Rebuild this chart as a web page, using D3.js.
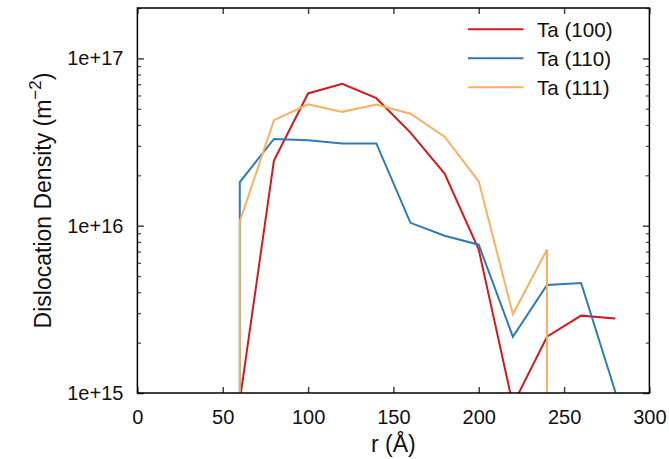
<!DOCTYPE html>
<html>
<head>
<meta charset="utf-8">
<script src="https://cdn.jsdelivr.net/npm/d3@7"></script>
<style>
  body { margin: 0; background: #fff; }
  text { font-family: "Liberation Sans", Arial, sans-serif; fill: #111; }
</style>
</head>
<body>
<script>
// radius bins (angstrom), 0 = empty bin, null = no data
const radius = [40, 60, 80, 100, 120, 140, 160, 180, 200, 220, 240, 260, 280, 300];

const ta100 = [0, 9e14, 2.45e16, 6.17e16, 7.05e16, 5.78e16, 3.6e16, 2.05e16, 7.2e15, 8.5e14, 2.17e15, 2.9e15, 2.79e15, null];
const ta110 = [0, 1.82e16, 3.3e16, 3.24e16, 3.1e16, 3.1e16, 1.04e16, 8.7e15, 7.7e15, 2.17e15, 4.42e15, 4.54e15, 1.02e15, 0];
const ta111 = [0, 1.06e16, 4.27e16, 5.32e16, 4.79e16, 5.3e16, 4.67e16, 3.4e16, 1.84e16, 2.96e15, 7.2e15, 0, null, null];

const seriesNames = ["Ta (100)", "Ta (110)", "Ta (111)"];
const seriesColors = ["#d7191c", "#2c7bb6", "#fdae61"];
const seriesValues = [ta100, ta110, ta111];

const xTicks = [0, 50, 100, 150, 200, 250, 300];
const yMajor = [1e15, 1e16, 1e17];
const yTickLabels = ["1e+15", "1e+16", "1e+17"];

const width = 669, height = 459;
const plotLeft = 137.4, plotRight = 649.4, plotTop = 8, plotBottom = 393;

const svg = d3.select("body").append("svg")
    .attr("width", width)
    .attr("height", height);

const x = d3.scaleLinear().domain([0, 300]).range([plotLeft, plotRight]);
const y = d3.scaleLog().domain([1e15, 2e17]).range([plotBottom, plotTop]);

svg.append("clipPath").attr("id", "plot-clip")
  .append("rect")
    .attr("x", plotLeft).attr("y", plotTop)
    .attr("width", plotRight - plotLeft).attr("height", plotBottom - plotTop);

// minor ticks: 2..9 in each decade
const yMinor = [];
[1e15, 1e16, 1e17].forEach(d => {
  for (let k = 2; k <= 9; k++) {
    if (d * k <= 2e17) yMinor.push(d * k);
  }
});

// axes, ticks pointing into the plot on all four sides
const tickColor = "#444";

svg.append("g")
    .attr("transform", `translate(0,${plotBottom})`)
    .call(d3.axisBottom(x).tickValues(xTicks).tickSizeInner(-6).tickSizeOuter(0).tickPadding(12))
    .call(g => g.select(".domain").remove())
    .call(g => g.selectAll("line").attr("stroke", tickColor).attr("stroke-width", 1.5))
    .call(g => g.selectAll("text").attr("font-size", 20).attr("font-family", null).attr("dy", "0.95em"));

svg.append("g")
    .attr("transform", `translate(0,${plotTop})`)
    .call(d3.axisTop(x).tickValues(xTicks).tickSizeInner(-6).tickSizeOuter(0).tickFormat(""))
    .call(g => g.select(".domain").remove())
    .call(g => g.selectAll("line").attr("stroke", tickColor).attr("stroke-width", 1.5));

svg.append("g")
    .attr("transform", `translate(${plotLeft},0)`)
    .call(d3.axisLeft(y).tickValues(yMajor).tickSizeInner(-6.5).tickSizeOuter(0).tickPadding(14)
      .tickFormat((d, i) => yTickLabels[i]))
    .call(g => g.select(".domain").remove())
    .call(g => g.selectAll("line").attr("stroke", tickColor).attr("stroke-width", 1.5))
    .call(g => g.selectAll("text").attr("font-size", 20).attr("font-family", null));

svg.append("g")
    .attr("transform", `translate(${plotLeft},0)`)
    .call(d3.axisLeft(y).tickValues(yMinor).tickSizeInner(-3.7).tickSizeOuter(0).tickFormat(""))
    .call(g => g.select(".domain").remove())
    .call(g => g.selectAll("line").attr("stroke", tickColor).attr("stroke-width", 1.2));

svg.append("g")
    .attr("transform", `translate(${plotRight},0)`)
    .call(d3.axisRight(y).tickValues(yMajor).tickSizeInner(-6.5).tickSizeOuter(0).tickFormat(""))
    .call(g => g.select(".domain").remove())
    .call(g => g.selectAll("line").attr("stroke", tickColor).attr("stroke-width", 1.5));

svg.append("g")
    .attr("transform", `translate(${plotRight},0)`)
    .call(d3.axisRight(y).tickValues(yMinor).tickSizeInner(-3.7).tickSizeOuter(0).tickFormat(""))
    .call(g => g.select(".domain").remove())
    .call(g => g.selectAll("line").attr("stroke", tickColor).attr("stroke-width", 1.2));

// series lines. an empty bin next to a filled one drops straight down at the filled bin
function linePoints(values) {
  const pts = [];
  const floor = plotBottom + 50;
  values.forEach((v, i) => {
    if (v === null) return;
    if (v > 0) {
      pts.push([x(radius[i]), y(v)]);
    } else {
      if (i > 0 && values[i - 1] > 0) pts.push([x(radius[i - 1]), floor]);
      if (i < values.length - 1 && values[i + 1] > 0) pts.push([x(radius[i + 1]), floor]);
    }
  });
  return pts;
}

const line = d3.line();

const plot = svg.append("g").attr("clip-path", "url(#plot-clip)");

seriesValues.forEach((vals, i) => {
  plot.append("path")
      .attr("d", line(linePoints(vals)))
      .attr("fill", "none")
      .attr("stroke", seriesColors[i])
      .attr("stroke-width", 2)
      .attr("stroke-linejoin", "miter");
});

// frame
svg.append("rect")
    .attr("x", plotLeft).attr("y", plotTop)
    .attr("width", plotRight - plotLeft).attr("height", plotBottom - plotTop)
    .attr("fill", "none")
    .attr("stroke", "#000")
    .attr("stroke-width", 1.5);

// legend
const legend = svg.append("g");
seriesNames.forEach((name, i) => {
  const ly = 29.3 + i * 29;
  legend.append("line")
      .attr("x1", 468).attr("x2", 523.5)
      .attr("y1", ly).attr("y2", ly)
      .attr("stroke", seriesColors[i])
      .attr("stroke-width", 2);
  legend.append("text")
      .attr("x", 537).attr("y", ly)
      .attr("dy", "0.36em")
      .attr("font-size", 20.6)
      .text(name);
});

// axis titles
svg.append("text")
    .attr("x", (plotLeft + plotRight) / 2)
    .attr("y", 452)
    .attr("text-anchor", "middle")
    .attr("font-size", 23)
    .text("r (Å)");

const ylab = svg.append("text")
    .attr("transform", `translate(51,${(plotTop + plotBottom) / 2}) rotate(-90)`)
    .attr("text-anchor", "middle")
    .attr("font-size", 23);
ylab.append("tspan").text("Dislocation Density (m");
ylab.append("tspan").attr("dy", -10).attr("font-size", 17).text("−2");
ylab.append("tspan").attr("dy", 10).text(")");
</script>
</body>
</html>
